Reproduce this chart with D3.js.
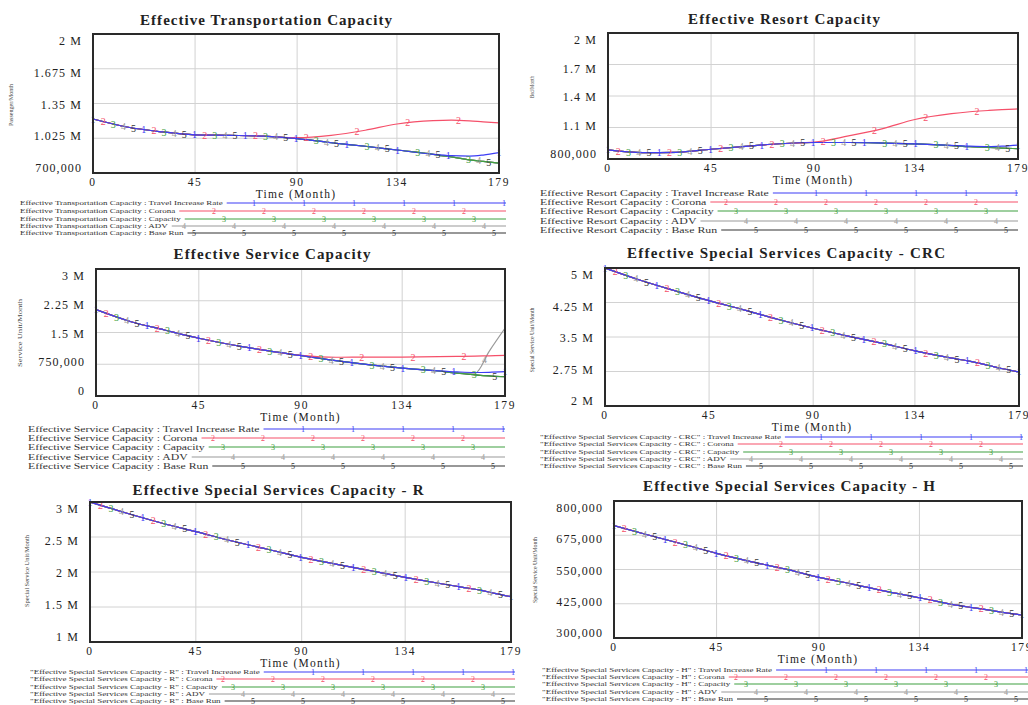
<!DOCTYPE html>
<html>
<head>
<meta charset="utf-8">
<script src="https://cdn.jsdelivr.net/npm/d3@7"></script>
<style>
  body { margin: 0; background: #fff; }
  svg { display: block; }
  text { font-family: "Liberation Serif", "Times New Roman", serif; }
</style>
</head>
<body>
<div id="graphicContainer"></div>
<script>
// time points (months) the values were read at
var months = [0, 15, 30, 45, 60, 75, 90, 105, 120, 134, 150, 158, 166, 172, 179];
var tickMonths = [0, 45, 90, 134, 179];
var scenarios = ["Travel Increase Rate", "Corona", "Capacity", "ADV", "Base Run"];
var scenarioColors = ["#3d3df5", "#f5506a", "#3fa040", "#9a9a9a", "#333333"];

// Effective Transportation Capacity
var transTIR      = [1205000, 1130000, 1085000, 1057000, 1052000, 1045000, 1022000, 983000, 950000, 915000, 875000, 862000, 858000, 868000, 890000];
var transCorona   = [1205000, 1130000, 1085000, 1057000, 1052000, 1045000, 1030000, 1052000, 1100000, 1158000, 1190000, 1195000, 1188000, 1178000, 1168000];
var transCapacity = [1205000, 1130000, 1085000, 1057000, 1052000, 1045000, 1022000, 983000, 950000, 915000, 875000, 850000, 823000, 808000, 792000];
var transTicks = ["2 M", "1.675 M", "1.35 M", "1.025 M", "700,000"];

// Effective Resort Capacity
var resortTIR      = [886000, 860000, 864000, 893000, 920000, 945000, 957000, 957000, 952000, 944000, 930000, 922000, 918000, 922000, 932000];
var resortCorona   = [886000, 860000, 864000, 893000, 920000, 945000, 960000, 1020000, 1090000, 1176000, 1232000, 1250000, 1262000, 1270000, 1277000];
var resortCapacity = [886000, 860000, 864000, 893000, 920000, 945000, 957000, 957000, 952000, 944000, 928000, 917000, 910000, 904000, 898000];
var resortTicks = ["2 M", "1.7 M", "1.4 M", "1.1 M", "800,000"];

// Effective Service Capacity
var serviceTIR      = [2040000, 1760000, 1560000, 1365000, 1205000, 1070000, 952000, 834000, 735000, 660000, 595000, 570000, 555000, 560000, 574000];
var serviceCorona   = [2040000, 1760000, 1560000, 1365000, 1205000, 1070000, 960000, 915000, 920000, 920000, 928000, 935000, 942000, 950000, 958000];
var serviceCapacity = [2040000, 1760000, 1560000, 1365000, 1205000, 1070000, 952000, 834000, 735000, 660000, 590000, 540000, 500000, 475000, 455000];
var serviceADV      = [2040000, 1760000, 1560000, 1365000, 1205000, 1070000, 952000, 834000, 735000, 660000, 592000, 545000, 540000, 1050000, 1600000];
var serviceTicks = ["3 M", "2.25 M", "1.5 M", "750,000", "0"];

// Effective Special Services Capacity (all scenarios overlap)
var crcAll = [5000000, 4740000, 4510000, 4290000, 4090000, 3880000, 3690000, 3520000, 3360000, 3200000, 3040000, 2970000, 2880000, 2810000, 2740000];
var crcTicks = ["5 M", "4.25 M", "3.5 M", "2.75 M", "2 M"];
var rAll = [3000000, 2847000, 2704000, 2576000, 2447000, 2329000, 2210000, 2110000, 2014000, 1924000, 1829000, 1785000, 1740000, 1695000, 1647000];
var rTicks = ["3 M", "2.5 M", "2 M", "1.5 M", "1 M"];
var hAll = [710000, 676000, 643000, 609000, 579000, 552000, 521000, 496000, 469000, 447000, 420000, 410000, 400000, 392000, 384000];
var hTicks = ["800,000", "675,000", "550,000", "425,000", "300,000"];

var panels = [
  {title: "Effective Transportation Capacity", name: "Effective Transportation Capacity", units: "Passenger/Month",
   domain: [700000, 2000000], ticks: transTicks, series: [transTIR, transCorona, transCapacity, transCapacity, transCapacity]},
  {title: "Effective Resort Capacity", name: "Effective Resort Capacity", units: "Bed/Month",
   domain: [800000, 2000000], ticks: resortTicks, series: [resortTIR, resortCorona, resortCapacity, resortCapacity, resortCapacity]},
  {title: "Effective Service Capacity", name: "Effective Service Capacity", units: "Service Unit/Month",
   domain: [0, 3000000], ticks: serviceTicks, series: [serviceTIR, serviceCorona, serviceCapacity, serviceADV, serviceCapacity]},
  {title: "Effective Special Services Capacity - CRC", name: "\"Effective Special Services Capacity - CRC\"", units: "Special Service Unit/Month",
   domain: [2000000, 5000000], ticks: crcTicks, series: [crcAll, crcAll, crcAll, crcAll, crcAll]},
  {title: "Effective Special Services Capacity - R", name: "\"Effective Special Services Capacity - R\"", units: "Special Service Unit/Month",
   domain: [1000000, 3000000], ticks: rTicks, series: [rAll, rAll, rAll, rAll, rAll]},
  {title: "Effective Special Services Capacity - H", name: "\"Effective Special Services Capacity - H\"", units: "Special Service Unit/Month",
   domain: [300000, 800000], ticks: hTicks, series: [hAll, hAll, hAll, hAll, hAll]}
];

// where each panel sits on the page
var layout = [
  {x0: 93, x1: 499, y0: 34, y1: 173, tx: 266, ty: 25, tw: 252, ux: 11, uy: 105, ul: 42,
   lx: 20, rows: [203, 211, 219, 226, 233], lend: 506, lw: 203, lf: 6.5},
  {x0: 608, x1: 1018, y0: 33, y1: 159, tx: 784, ty: 24, tw: 192, ux: 532, uy: 87, ul: 22,
   lx: 540, rows: [193, 202, 211, 221, 230], lend: 1018, lw: 229, lf: 8},
  {x0: 96, x1: 505, y0: 269, y1: 396, tx: 272, ty: 259, tw: 197, ux: 20, uy: 333, ul: 68,
   lx: 28, rows: [429, 438, 447, 457, 466], lend: 505, lw: 232, lf: 8},
  {x0: 605, x1: 1019, y0: 268, y1: 406, tx: 786, ty: 258, tw: 318, ux: 532, uy: 340, ul: 65,
   lx: 540, rows: [437, 444, 452, 459, 466], lend: 1023, lw: 241, lf: 6.3},
  {x0: 90, x1: 511, y0: 502, y1: 642, tx: 278, ty: 495, tw: 291, ux: 27, uy: 571, ul: 72,
   lx: 30, rows: [672, 679, 687, 694, 701], lend: 515, lw: 230, lf: 6.3},
  {x0: 614, x1: 1022, y0: 501, y1: 638, tx: 789, ty: 491, tw: 292, ux: 535, uy: 570, ul: 66,
   lx: 542, rows: [670, 677, 684, 692, 699], lend: 1028, lw: 230, lf: 6.3}
];

var svg = d3.select("#graphicContainer").append("svg")
  .attr("width", 1028).attr("height", 705);

svg.append("rect").attr("width", 1028).attr("height", 705).attr("fill", "#fff");

function pointAtX(node, px) {
  var lo = 0, hi = node.getTotalLength();
  for (var n = 0; n < 30; n++) {
    var mid = (lo + hi) / 2;
    if (node.getPointAtLength(mid).x < px) lo = mid; else hi = mid;
  }
  return node.getPointAtLength((lo + hi) / 2);
}

function drawPanel(p, L, idx) {
  var g = svg.append("g");
  var x = d3.scaleLinear().domain([0, 179]).range([L.x0, L.x1]);
  var y = d3.scaleLinear().domain(p.domain).range([L.y1, L.y0]);
  var yVals = d3.range(5).map(function(i) { return p.domain[1] - (p.domain[1] - p.domain[0]) * i / 4; });
  // labels sit slightly inside the box ends, Vensim style
  var yLab = d3.scaleLinear().domain(p.domain).range([L.y1 - 5, L.y0 + 7]);

  g.selectAll(".vgrid").data(tickMonths.slice(1, -1)).enter().append("line")
    .attr("x1", function(d) { return x(d); }).attr("x2", function(d) { return x(d); })
    .attr("y1", L.y0).attr("y2", L.y1)
    .attr("stroke", "#d2d2d2").attr("stroke-width", 1);
  g.selectAll(".hgrid").data(yVals.slice(1, -1)).enter().append("line")
    .attr("x1", L.x0).attr("x2", L.x1)
    .attr("y1", function(d) { return y(d); }).attr("y2", function(d) { return y(d); })
    .attr("stroke", "#d2d2d2").attr("stroke-width", 1);

  g.selectAll(".ylab").data(yVals).enter().append("text")
    .attr("x", L.x0 - 11).attr("y", function(d) { return yLab(d); })
    .attr("text-anchor", "end").attr("dominant-baseline", "central")
    .attr("font-size", 12).attr("letter-spacing", 1.1).attr("fill", "#222")
    .text(function(d, i) { return p.ticks[i]; });

  g.selectAll(".xlab").data(tickMonths).enter().append("text")
    .attr("x", function(d) { return x(d); }).attr("y", L.y1 + 9)
    .attr("text-anchor", "middle").attr("dominant-baseline", "central")
    .attr("font-size", 11.5).attr("letter-spacing", 1.6).attr("fill", "#222")
    .text(function(d) { return d; });

  g.append("text")
    .attr("x", (L.x0 + L.x1) / 2).attr("y", L.y1 + 21)
    .attr("text-anchor", "middle").attr("dominant-baseline", "central")
    .attr("font-size", 11.5).attr("letter-spacing", 1.3).attr("fill", "#222")
    .text("Time (Month)");

  g.append("text")
    .attr("x", L.tx).attr("y", L.ty)
    .attr("text-anchor", "middle").attr("font-size", 15).attr("font-weight", "bold")
    .attr("fill", "#222").attr("textLength", L.tw)
    .text(p.title);

  g.append("text")
    .attr("transform", "translate(" + L.ux + "," + L.uy + ") rotate(-90)")
    .attr("text-anchor", "middle").attr("dominant-baseline", "central")
    .attr("font-size", 6).attr("fill", "#444")
    .attr("textLength", L.ul).attr("lengthAdjust", "spacingAndGlyphs")
    .text(p.units);

  var clipId = "clip" + idx;
  svg.append("clipPath").attr("id", clipId).append("rect")
    .attr("x", L.x0).attr("y", L.y0).attr("width", L.x1 - L.x0).attr("height", L.y1 - L.y0);

  var line = d3.line()
    .x(function(d, i) { return x(months[i]); })
    .y(function(d) { return y(d); })
    .curve(d3.curveMonotoneX);

  var plot = g.append("g").attr("clip-path", "url(#" + clipId + ")");
  var paths = [];
  for (var s = 4; s >= 0; s--) {
    paths[s] = plot.append("path")
      .datum(p.series[s])
      .attr("d", line)
      .attr("fill", "none")
      .attr("stroke", scenarioColors[s])
      .attr("stroke-width", 1.2)
      .node();
  }

  // numbered markers along each run
  var period = 179 / 8, step = period / 5;
  for (s = 4; s >= 0; s--) {
    var pts = [];
    for (var t = s * step; t <= 179.01; t += period) pts.push(pointAtX(paths[s], x(Math.min(t, 179))));
    g.selectAll(".mk" + s).data(pts).enter().append("text")
      .attr("x", function(d) { return d.x; }).attr("y", function(d) { return d.y; })
      .attr("text-anchor", "middle").attr("dominant-baseline", "central")
      .attr("font-size", 10).attr("fill", scenarioColors[s])
      .text(s + 1);
  }

  g.append("rect")
    .attr("x", L.x0).attr("y", L.y0).attr("width", L.x1 - L.x0).attr("height", L.y1 - L.y0)
    .attr("fill", "none").attr("stroke", "#2a2a2a").attr("stroke-width", 2);

  // legend: small text stretched sideways, as in the source
  var probe = g.append("text").attr("font-size", L.lf).text(p.name + " : " + scenarios[0]);
  var sx = L.lw / probe.node().getComputedTextLength();
  probe.remove();

  scenarios.forEach(function(sc, i) {
    var ry = L.rows[i];
    var txt = g.append("text")
      .attr("transform", "translate(" + L.lx + "," + ry + ") scale(" + sx + ",1)")
      .attr("dominant-baseline", "central")
      .attr("font-size", L.lf).attr("fill", "#333")
      .text(p.name + " : " + sc);
    var start = L.lx + txt.node().getComputedTextLength() * sx + 4;
    g.append("line")
      .attr("x1", start).attr("x2", L.lend).attr("y1", ry).attr("y2", ry)
      .attr("stroke", scenarioColors[i]).attr("stroke-width", 1.1);
    var mx = [];
    for (var m = L.lend - 2 - ((5 - i) % 5) * 10; m > start + 2; m -= 50) mx.push(m);
    g.selectAll(".lm" + i).data(mx).enter().append("text")
      .attr("x", function(d) { return d; }).attr("y", ry)
      .attr("text-anchor", "middle").attr("dominant-baseline", "central")
      .attr("font-size", 8).attr("fill", scenarioColors[i])
      .text(i + 1);
  });
}

panels.forEach(function(p, i) { drawPanel(p, layout[i], i); });
</script>
</body>
</html>
